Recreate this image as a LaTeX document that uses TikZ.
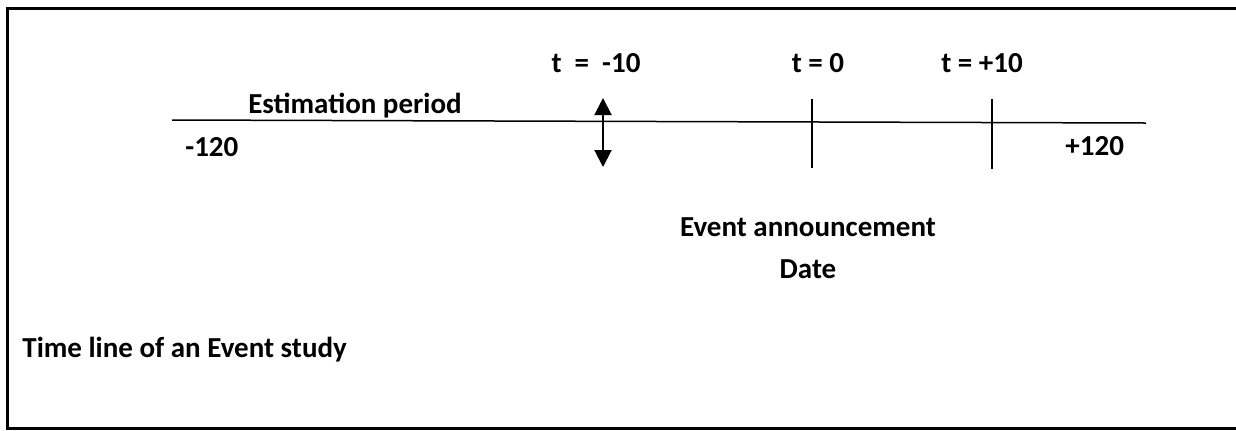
\documentclass[tikz,border=0pt]{standalone}
\usepackage{fontspec}
\setmainfont{Carlito}
\usetikzlibrary{arrows.meta}

\tikzstyle{label} = [font=\bfseries\fontsize{14.5}{17}\selectfont, inner sep=0pt, anchor=base]
\tikzstyle{axis} = [line width=0.75pt]
\tikzstyle{arrow} = [line width=1pt,{Triangle[length=8.5pt,width=8.5pt]}-{Triangle[length=8.5pt,width=8.5pt]}]

\begin{document}
\begin{tikzpicture}[x=0.5pt, y=-0.5pt]
        \useasboundingbox (0,0) rectangle (1236,430);
        \draw [line width=1.5pt] (1236,8) -- (7,8) -- (7,428) -- (1236,428);

        % time axis
        \coordinate (start) at (172,120);
        \coordinate (finish) at (1146,123);
        \draw [axis] (start) -- (finish);

        \coordinate (window_top) at (603,98);
        \coordinate (window_bottom) at (603,167);
        \coordinate (event_top) at (812,99);
        \coordinate (event_bottom) at (812,168);
        \coordinate (post_top) at (992,99);
        \coordinate (post_bottom) at (992,169);
        \draw [arrow] (window_top) -- (window_bottom);
        \draw [axis] (event_top) -- (event_bottom);
        \draw [axis] (post_top) -- (post_bottom);

        \node (t_window) [label] at (596,72) {t\ \ =\ \ -10};
        \node (t_event) [label] at (818,72) {t = 0};
        \node (t_post) [label] at (982,72) {t = +10};
        \node (estimation) [label] at (355,113) {Estimation period};
        \node (low) [label, anchor=base west] at (185,156) {-120};
        \node (high) [label, anchor=base west] at (1065,155) {+120};
        \node (announcement) [label] at (808,236) {Event announcement};
        \node (date) [label] at (808,278) {Date};
        \node (caption) [label, anchor=base west] at (22,357) {Time line of an Event study};
    \end{tikzpicture}
\end{document}
